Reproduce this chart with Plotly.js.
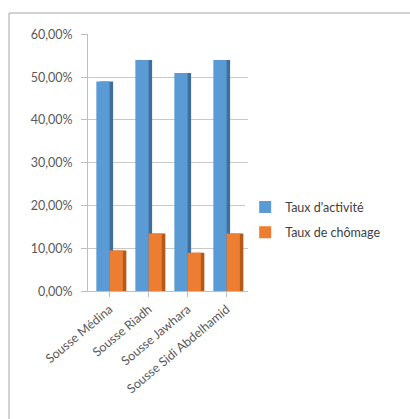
<!DOCTYPE html>
<html>
<head>
<meta charset="utf-8">
<script src="https://cdn.plot.ly/plotly-3.0.1.min.js"></script>
<style>html,body{margin:0;padding:0;background:#fff;}#chart{width:410px;height:419px;}</style>
</head>
<body>
<div id="chart"></div>
<script>
var categories = ["Sousse Médina", "Sousse Riadh", "Sousse Jawhara", "Sousse Sidi Abdelhamid"];
var tauxActivite = [0.49, 0.54, 0.51, 0.54];
var tauxChomage = [0.095, 0.135, 0.09, 0.135];
var yTickVals = [0, 0.1, 0.2, 0.3, 0.4, 0.5, 0.6];
var yTickText = ["0,00%", "10,00%", "20,00%", "30,00%", "40,00%", "50,00%", "60,00%"];

var W = 0.34, SIDE = 0.09;
var traces = [
  {type:'bar', x:categories, y:tauxActivite, offset:-W+SIDE, width:W, marker:{color:'#3e6f9e'}, showlegend:false, hoverinfo:'skip'},
  {type:'bar', x:categories, y:tauxActivite, offset:-W, width:W, marker:{color:'#5b9bd5'}, name:"Taux d'activité", legendgroup:'a'},
  {type:'bar', x:categories, y:tauxChomage, offset:SIDE, width:W, marker:{color:'#b65a1c'}, showlegend:false, hoverinfo:'skip'},
  {type:'bar', x:categories, y:tauxChomage, offset:0, width:W, marker:{color:'#ed7d31'}, name:"Taux de chômage", legendgroup:'b'}
];

var layout = {
  width:410, height:419,
  margin:{l:0, r:0, t:0, b:0},
  paper_bgcolor:'#fff', plot_bgcolor:'#fff',
  barmode:'overlay',
  font:{family:'Lato, "Open Sans", sans-serif', size:12, color:'#595959'},
  xaxis:{
    domain:[0.215, 0.605],
    range:[-0.55, 3.55],
    tickangle:-40,
    tickfont:{size:12.5, color:'#595959'},
    showline:true, linecolor:'#bfbfbf', linewidth:1,
    ticks:'outside', ticklen:5, tickcolor:'#bfbfbf',
    showgrid:false
  },
  yaxis:{
    domain:[0.305, 0.918],
    range:[0, 0.6],
    tickvals:yTickVals, ticktext:yTickText,
    tickfont:{size:12.5, color:'#595959'},
    showgrid:true, gridcolor:'#c8c8c8', gridwidth:1,
    showline:true, linecolor:'#bfbfbf', linewidth:1,
    ticks:'outside', ticklen:6, tickcolor:'#bfbfbf',
    ticklabelstandoff:6,
    zeroline:false
  },
  legend:{
    x:0.598, y:0.475, xanchor:'left', yanchor:'middle',
    font:{size:12.5, color:'#404040'},
    tracegroupgap:6
  },
  shapes:[
    {type:'rect', xref:'paper', yref:'paper', x0:9/410, x1:1.05, y0:-0.05, y1:1-13/419,
     line:{color:'#a6a6a6', width:1}, fillcolor:'rgba(0,0,0,0)', layer:'below'}
  ],
  showlegend:true
};

Plotly.newPlot('chart', traces, layout, {displayModeBar:false, staticPlot:true});
</script>
</body>
</html>
